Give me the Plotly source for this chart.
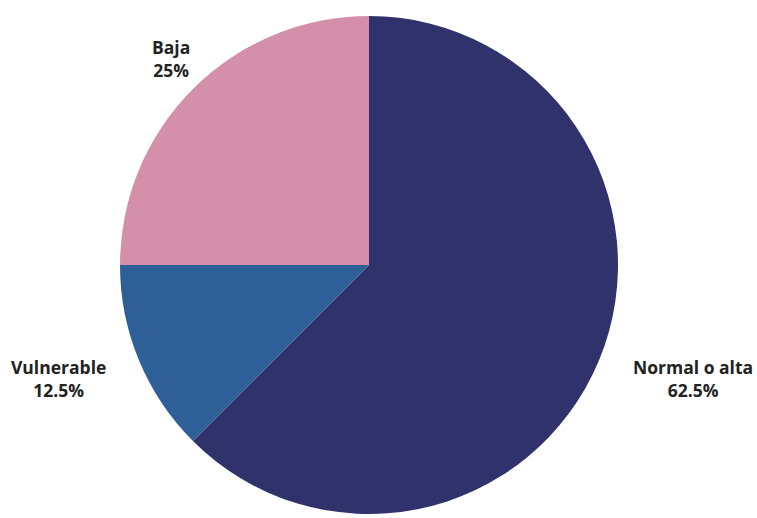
import plotly.graph_objects as go

labels = ["Normal o alta", "Vulnerable", "Baja"]
values = [62.5, 12.5, 25]
colors = ["#30336b", "#2e5f97", "#d48fa9"]

W, H = 757, 518
cx, cy, R = 369, 265, 249  # pixel centre and radius of the pie

fig = go.Figure(go.Pie(
    labels=labels,
    values=values,
    sort=False,
    direction="clockwise",
    rotation=0,
    marker=dict(colors=colors, line=dict(width=0)),
    textinfo="none",
    hoverinfo="label+percent",
    domain=dict(x=[(cx - R) / W, (cx + R) / W], y=[(H - cy - R) / H, (H - cy + R) / H]),
    showlegend=False,
))

# label block centres (pixels)
label_pos = {"Normal o alta": (693, 378), "Vulnerable": (58, 378), "Baja": (171, 58)}
for lab, val in zip(labels, values):
    px, py = label_pos[lab]
    pct = f"{val:g}%"
    fig.add_annotation(
        x=px / W, y=1 - py / H, xref="paper", yref="paper",
        text=f"<b>{lab}</b><br><b>{pct}</b>", showarrow=False,
        xanchor="center", yanchor="middle", align="center",
        font=dict(family="Open Sans", size=17.5, color="#222222"),
    )

fig.update_layout(
    width=W, height=H,
    margin=dict(l=0, r=0, t=0, b=0),
    paper_bgcolor="white", plot_bgcolor="white",
)
fig.write_html("out.html", config={"displayModeBar": False},
               post_script="document.body.style.margin='0';")
